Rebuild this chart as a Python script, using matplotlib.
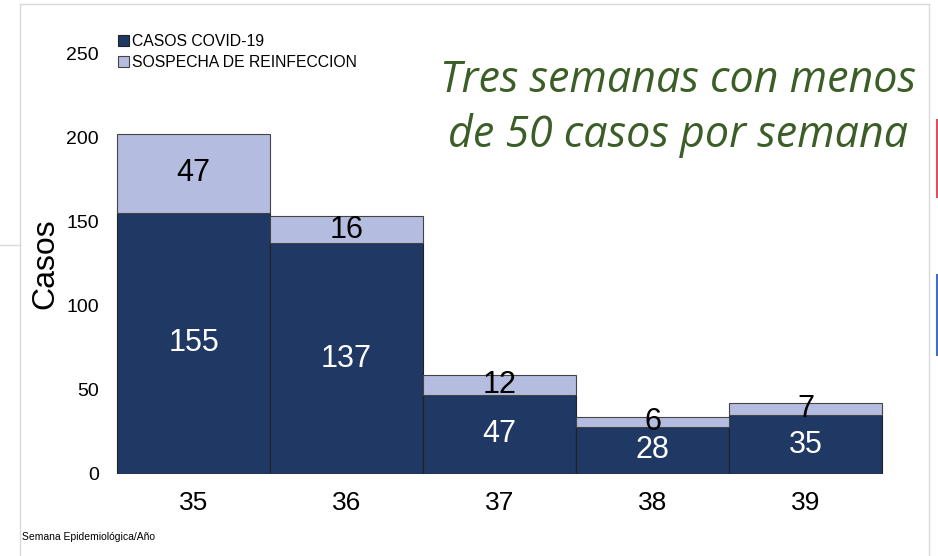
import matplotlib.pyplot as plt
import matplotlib as mpl
from matplotlib.lines import Line2D
import numpy as np

mpl.use('Agg')
plt.rcParams['font.family'] = ['Liberation Sans', 'DejaVu Sans']

# data
semanas = ['35', '36', '37', '38', '39']
casos_covid = [155, 137, 47, 28, 35]
sospecha_reinf = [47, 16, 12, 6, 7]

dark = '#1f3864'
light = '#b4bde0'

fig = plt.figure(figsize=(9.38, 5.56), dpi=100)
W, H = 938, 556
# axes placed in pixel coords: x from ~102 to ~897, y 0 at 474, 250 at 53
ax = fig.add_axes([101.7 / W, (H - 474) / H, (897.3 - 101.7) / W, (474 - 53) / H])

x = np.arange(len(semanas))
ax.bar(x, casos_covid, width=1.0, color=dark, edgecolor='#222222', linewidth=0.8,
       label='CASOS COVID-19', zorder=2)
ax.bar(x, sospecha_reinf, width=1.0, bottom=casos_covid, color=light,
       edgecolor='#444444', linewidth=0.8, label='SOSPECHA DE REINFECCION', zorder=2)

for i in range(len(x)):
    ax.text(x[i], casos_covid[i] / 2, str(casos_covid[i]), ha='center', va='center',
            color='white', fontsize=22)
    ax.text(x[i], casos_covid[i] + sospecha_reinf[i] / 2, str(sospecha_reinf[i]),
            ha='center', va='center', color='black', fontsize=22)

ax.set_xlim(-0.6, 4.6)
ax.set_ylim(0, 250)
ax.set_yticks([0, 50, 100, 150, 200, 250])
ax.set_xticks(x)
ax.set_xticklabels(semanas, fontsize=19)
ax.tick_params(axis='y', labelsize=14, length=0, pad=2)
ax.tick_params(axis='x', length=0, pad=12)
for s in ax.spines.values():
    s.set_visible(False)
ax.set_ylabel('Casos', fontsize=23, labelpad=4)

leg = ax.legend(loc='upper left', bbox_to_anchor=(0.013, 1.06), frameon=False,
                fontsize=11.3, handlelength=0.7, handleheight=0.7, handletextpad=0.2,
                labelspacing=0.35, borderaxespad=0)

fig.text(22 / W, 1 - 537 / H, 'Semana Epidemiológica/Año', fontsize=7.5,
         ha='left', va='center')

fig.text(678 / W, 1 - 108 / H, 'Tres semanas con menos\nde 50 casos por semana',
         fontsize=31, style='italic', color='#3b5e27', ha='center', va='center',
         family=['Open Sans', 'DejaVu Sans'], linespacing=1.3)

# screenshot frame lines
def px_line(x0, y0, x1, y1, color, lw):
    fig.add_artist(Line2D([x0 / W, x1 / W], [1 - y0 / H, 1 - y1 / H],
                          transform=fig.transFigure, color=color, linewidth=lw))

px_line(20, 4, 20, 556, '#d9d9d9', 1)
px_line(20, 4, 929, 4, '#d9d9d9', 1)
px_line(929, 4, 929, 556, '#d9d9d9', 1)
px_line(0, 245, 20, 245, '#d9d9d9', 1)
px_line(937, 120, 937, 197, '#e0505a', 1.5)
px_line(937, 275, 937, 355, '#4070c0', 1.5)

fig.savefig('out.png', dpi=100)
